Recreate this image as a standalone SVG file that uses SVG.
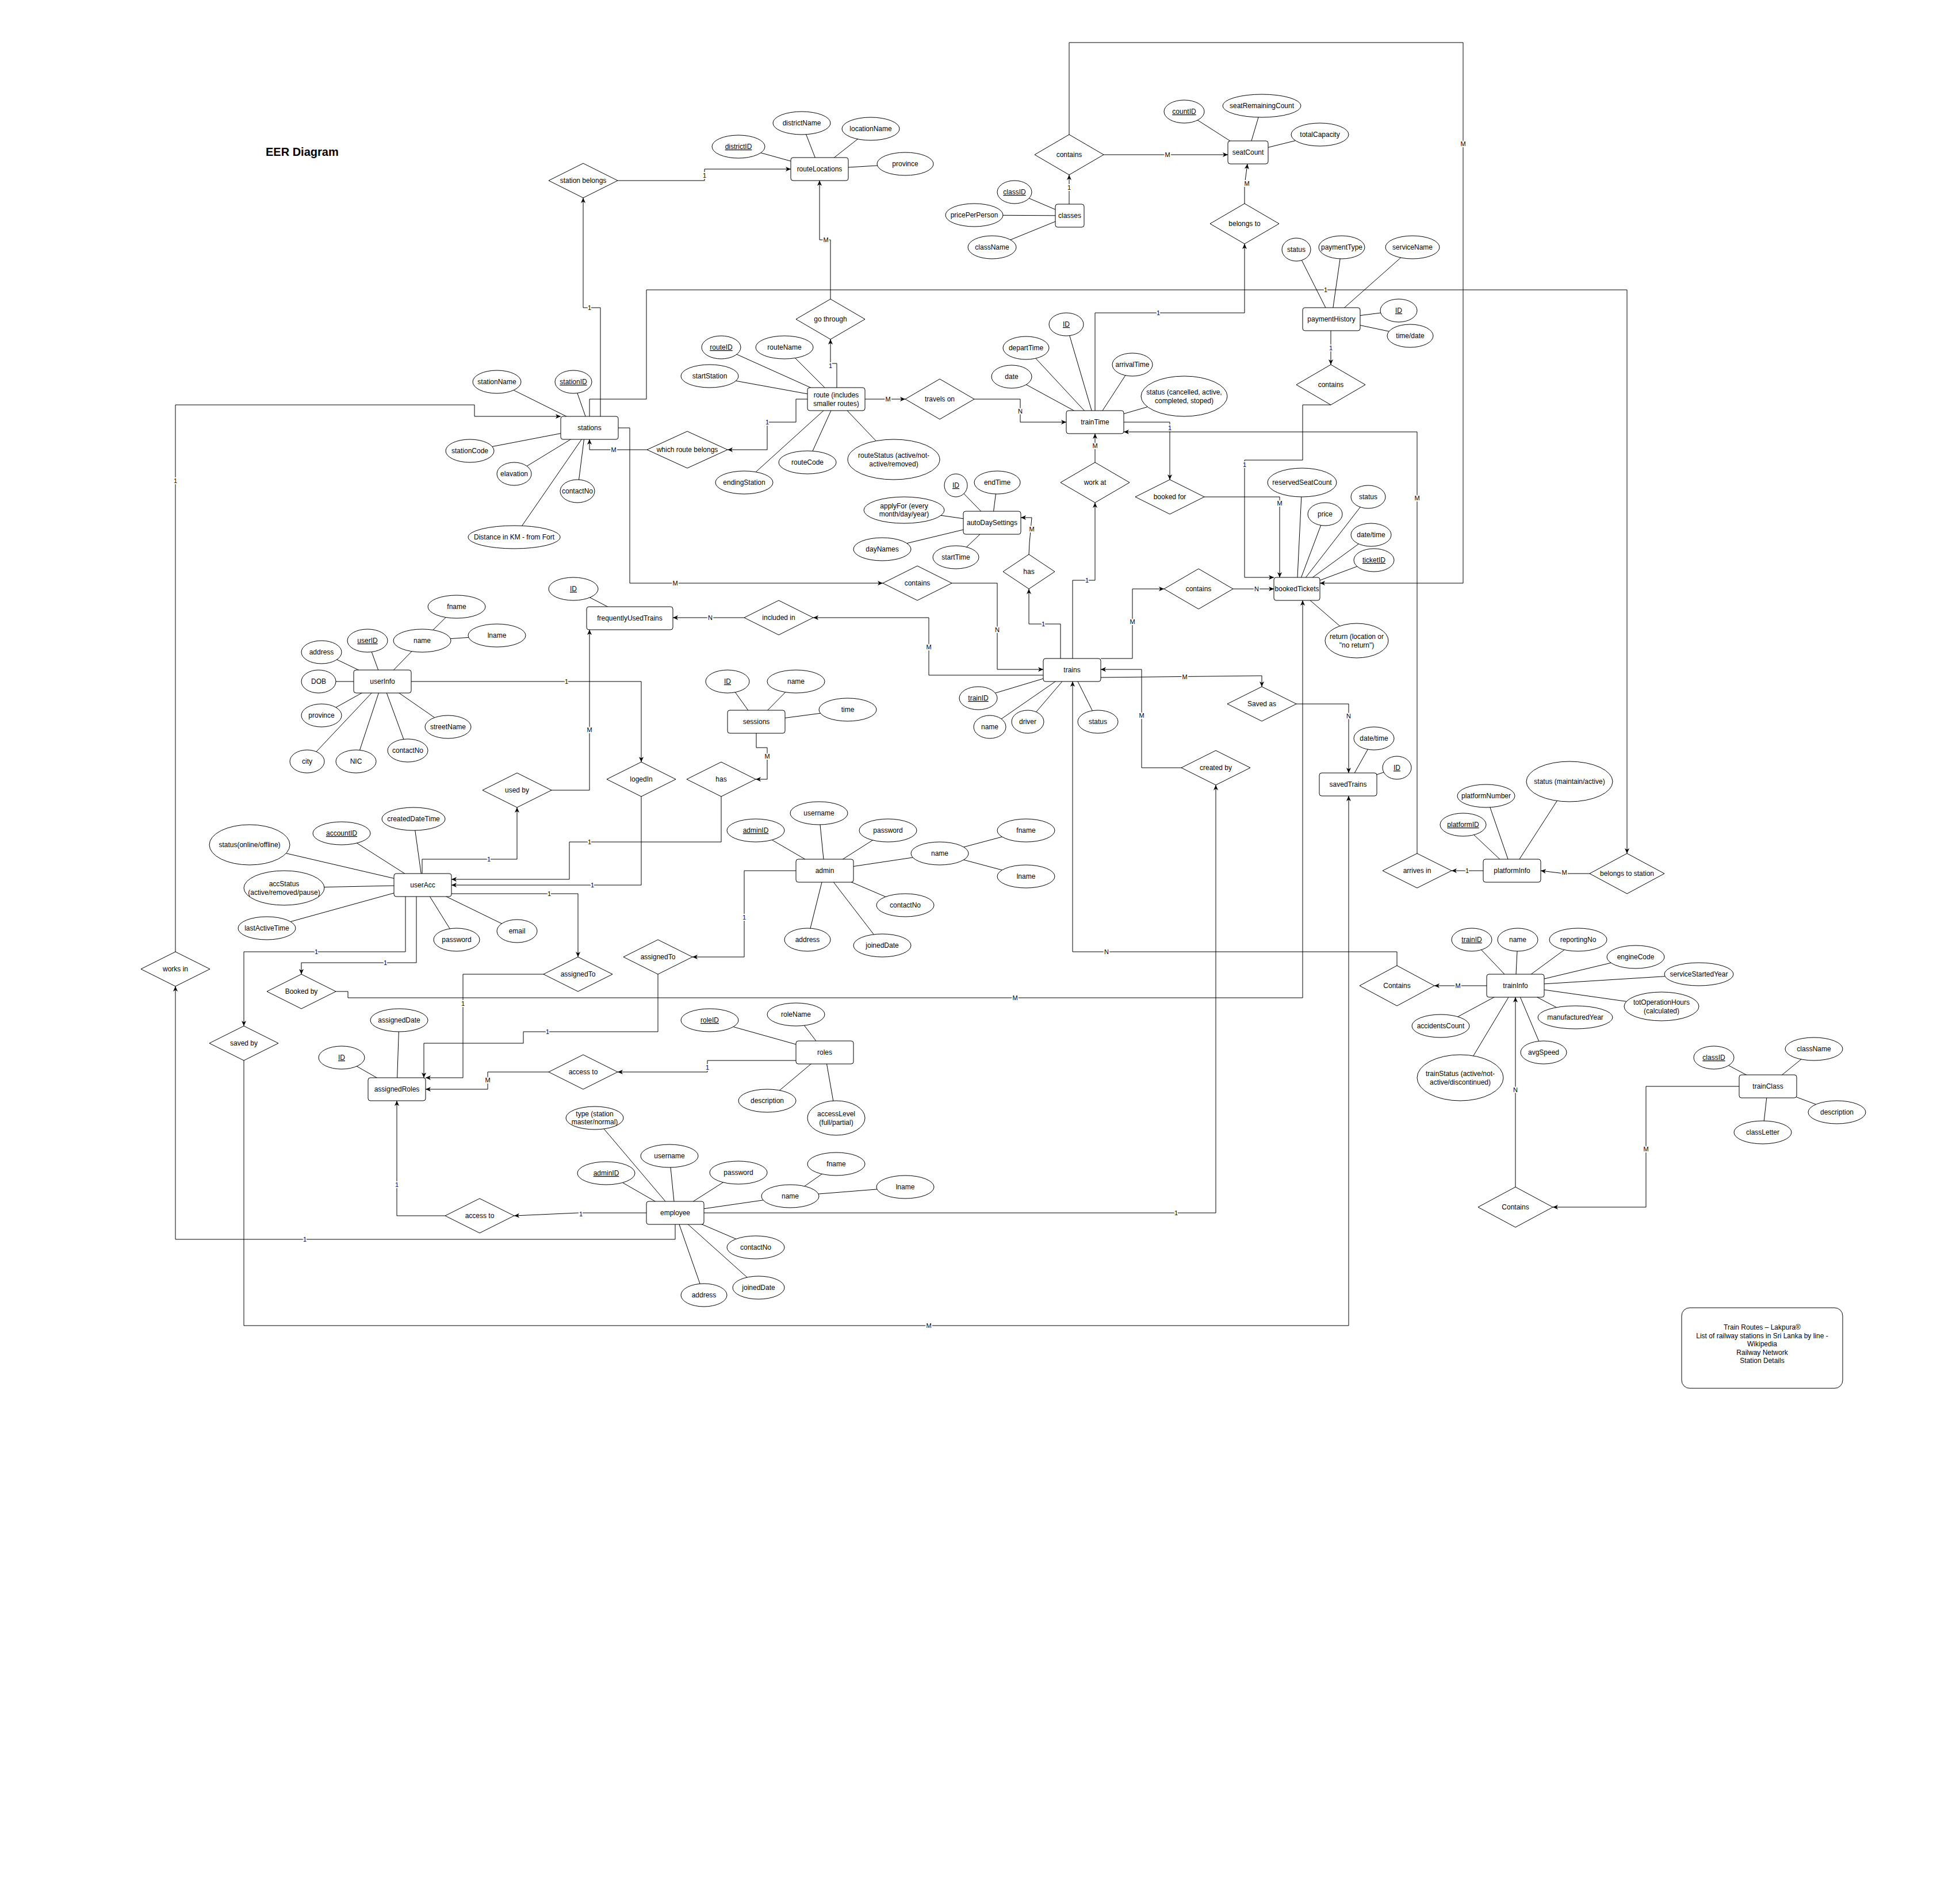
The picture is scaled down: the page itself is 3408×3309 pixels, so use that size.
<svg xmlns="http://www.w3.org/2000/svg" width="3408" height="3309" viewBox="0 0 3408 3309">
<defs>
<marker id="arr" markerWidth="10" markerHeight="8" refX="9" refY="4" orient="auto" markerUnits="userSpaceOnUse"><path d="M0,0 L9,4 L0,8 L2.5,4 z" fill="#000"/></marker>
<style>
text{font-family:"Liberation Sans",Arial,Helvetica,sans-serif;font-size:12px;fill:#000;text-anchor:middle}
.e,.a,.r{fill:#fff;stroke:#000;stroke-width:1}
.k{text-decoration:underline}
.al line{stroke:#000;stroke-width:1}
.c{fill:none;stroke:#000;stroke-width:1}
.l{font-size:11px;paint-order:stroke;stroke:#fff;stroke-width:4px;stroke-linejoin:round}
.t{font-size:20px;font-weight:bold;text-anchor:start}
</style>
</defs>
<rect width="3408" height="3309" fill="#fff"/>
<text class="t" x="462" y="271">EER Diagram</text>

<g id="attribute-links" class="al">
<line x1="1025" y1="744" x2="864" y2="664"/><line x1="1025" y1="744" x2="997" y2="664"/><line x1="1025" y1="744" x2="817" y2="784"/><line x1="1025" y1="744" x2="894" y2="824"/><line x1="1018" y1="744" x2="1004" y2="854"/><line x1="1025" y1="744" x2="894" y2="934"/>
<line x1="1425" y1="294" x2="1284" y2="255"/><line x1="1425" y1="294" x2="1394" y2="214"/><line x1="1425" y1="294" x2="1514" y2="224"/><line x1="1425" y1="294" x2="1574" y2="285"/>
<line x1="1454" y1="694" x2="1254" y2="604"/><line x1="1454" y1="694" x2="1364" y2="604"/><line x1="1454" y1="694" x2="1234" y2="654"/><line x1="1454" y1="694" x2="1294" y2="839"/><line x1="1454" y1="694" x2="1404" y2="804"/><line x1="1454" y1="694" x2="1554" y2="799"/>
<line x1="1860" y1="375" x2="1764" y2="334"/><line x1="1860" y1="375" x2="1694" y2="374"/><line x1="1860" y1="375" x2="1725" y2="430"/>
<line x1="2170" y1="265" x2="2059" y2="194"/><line x1="2170" y1="265" x2="2194" y2="184"/><line x1="2170" y1="265" x2="2295" y2="234"/>
<line x1="1904" y1="734" x2="1854" y2="564"/><line x1="1904" y1="734" x2="1784" y2="605"/><line x1="1904" y1="734" x2="1969" y2="634"/><line x1="1904" y1="734" x2="1759" y2="655"/><line x1="1904" y1="734" x2="2059" y2="689"/>
<line x1="2315" y1="555" x2="2254" y2="434"/><line x1="2315" y1="555" x2="2333" y2="430"/><line x1="2315" y1="555" x2="2456" y2="430"/><line x1="2315" y1="555" x2="2432" y2="540"/><line x1="2315" y1="555" x2="2452" y2="584"/>
<line x1="1725" y1="909" x2="1662" y2="844"/><line x1="1725" y1="909" x2="1734" y2="839"/><line x1="1725" y1="909" x2="1572" y2="887"/><line x1="1725" y1="909" x2="1534" y2="955"/><line x1="1725" y1="909" x2="1662" y2="969"/>
<line x1="2255" y1="1024" x2="2264" y2="839"/><line x1="2255" y1="1024" x2="2304" y2="894"/><line x1="2255" y1="1024" x2="2379" y2="864"/><line x1="2255" y1="1024" x2="2384" y2="930"/><line x1="2255" y1="1024" x2="2389" y2="974"/><line x1="2255" y1="1024" x2="2359" y2="1114"/>
<line x1="1095" y1="1075" x2="997" y2="1024"/>
<line x1="1864" y1="1165" x2="1701" y2="1214"/><line x1="1864" y1="1165" x2="1721" y2="1264"/><line x1="1864" y1="1165" x2="1787" y2="1255"/><line x1="1864" y1="1165" x2="1909" y2="1255"/>
<line x1="665" y1="1185" x2="734" y2="1114"/><line x1="734" y1="1114" x2="794" y2="1055"/><line x1="734" y1="1114" x2="864" y2="1105"/><line x1="665" y1="1185" x2="639" y2="1114"/><line x1="665" y1="1185" x2="559" y2="1134"/><line x1="665" y1="1185" x2="554" y2="1185"/><line x1="665" y1="1185" x2="559" y2="1244"/><line x1="665" y1="1185" x2="534" y2="1324"/><line x1="665" y1="1185" x2="619" y2="1324"/><line x1="665" y1="1185" x2="709" y2="1305"/><line x1="665" y1="1185" x2="779" y2="1264"/>
<line x1="1315" y1="1255" x2="1265" y2="1185"/><line x1="1315" y1="1255" x2="1384" y2="1185"/><line x1="1315" y1="1255" x2="1474" y2="1234"/>
<line x1="2344" y1="1364" x2="2389" y2="1284"/><line x1="2344" y1="1364" x2="2429" y2="1335"/>
<line x1="2629" y1="1514" x2="2544" y2="1434"/><line x1="2629" y1="1514" x2="2584" y2="1384"/><line x1="2629" y1="1514" x2="2729" y2="1359"/>
<line x1="735" y1="1539" x2="594" y2="1449"/><line x1="735" y1="1539" x2="719" y2="1424"/><line x1="735" y1="1539" x2="434" y2="1469"/><line x1="735" y1="1539" x2="494" y2="1544"/><line x1="735" y1="1539" x2="464" y2="1614"/><line x1="735" y1="1539" x2="794" y2="1634"/><line x1="735" y1="1539" x2="899" y2="1619"/>
<line x1="1434" y1="1514" x2="1314" y2="1444"/><line x1="1434" y1="1514" x2="1424" y2="1414"/><line x1="1434" y1="1514" x2="1544" y2="1444"/><line x1="1434" y1="1514" x2="1634" y2="1484"/><line x1="1634" y1="1484" x2="1784" y2="1444"/><line x1="1634" y1="1484" x2="1784" y2="1524"/><line x1="1434" y1="1514" x2="1574" y2="1574"/><line x1="1434" y1="1514" x2="1404" y2="1634"/><line x1="1434" y1="1514" x2="1534" y2="1644"/>
<line x1="2635" y1="1714" x2="2559" y2="1634"/><line x1="2635" y1="1714" x2="2639" y2="1634"/><line x1="2635" y1="1714" x2="2744" y2="1634"/><line x1="2635" y1="1714" x2="2844" y2="1664"/><line x1="2635" y1="1714" x2="2954" y2="1694"/><line x1="2635" y1="1714" x2="2889" y2="1750"/><line x1="2635" y1="1714" x2="2739" y2="1769"/><line x1="2635" y1="1714" x2="2684" y2="1830"/><line x1="2635" y1="1714" x2="2505" y2="1784"/><line x1="2635" y1="1714" x2="2539" y2="1874"/>
<line x1="1434" y1="1830" x2="1234" y2="1774"/><line x1="1434" y1="1830" x2="1384" y2="1764"/><line x1="1434" y1="1830" x2="1334" y2="1914"/><line x1="1434" y1="1830" x2="1454" y2="1944"/>
<line x1="690" y1="1894" x2="594" y2="1839"/><line x1="690" y1="1894" x2="694" y2="1774"/>
<line x1="3074" y1="1889" x2="2980" y2="1839"/><line x1="3074" y1="1889" x2="3154" y2="1824"/><line x1="3074" y1="1889" x2="3194" y2="1934"/><line x1="3074" y1="1889" x2="3065" y2="1969"/>
<line x1="1174" y1="2109" x2="1034" y2="1944"/><line x1="1174" y1="2109" x2="1054" y2="2040"/><line x1="1174" y1="2109" x2="1164" y2="2010"/><line x1="1174" y1="2109" x2="1284" y2="2039"/><line x1="1174" y1="2109" x2="1374" y2="2080"/><line x1="1374" y1="2080" x2="1454" y2="2024"/><line x1="1374" y1="2080" x2="1574" y2="2064"/><line x1="1174" y1="2109" x2="1314" y2="2169"/><line x1="1174" y1="2109" x2="1319" y2="2239"/><line x1="1174" y1="2109" x2="1224" y2="2252"/>
</g>

<g id="entities">
<g id="stations"><rect class="e" x="975" y="724" width="100" height="40" rx="4"/><text x="1025" y="748">stations</text></g>
<g id="routeLocations"><rect class="e" x="1375" y="274" width="100" height="40" rx="4"/><text x="1425" y="298">routeLocations</text></g>
<g id="route"><rect class="e" x="1404" y="674" width="100" height="40" rx="4"/><text x="1454" y="691">route (includes</text><text x="1454" y="706">smaller routes)</text></g>
<g id="classes"><rect class="e" x="1835" y="355" width="50" height="40" rx="4"/><text x="1860" y="379">classes</text></g>
<g id="seatCount"><rect class="e" x="2135" y="245" width="70" height="40" rx="4"/><text x="2170" y="269">seatCount</text></g>
<g id="trainTime"><rect class="e" x="1854" y="714" width="100" height="40" rx="4"/><text x="1904" y="738">trainTime</text></g>
<g id="paymentHistory"><rect class="e" x="2265" y="535" width="100" height="40" rx="4"/><text x="2315" y="559">paymentHistory</text></g>
<g id="autoDaySettings"><rect class="e" x="1675" y="889" width="100" height="40" rx="4"/><text x="1725" y="913">autoDaySettings</text></g>
<g id="bookedTickets"><rect class="e" x="2215" y="1004" width="80" height="40" rx="4"/><text x="2255" y="1028">bookedTickets</text></g>
<g id="frequentlyUsedTrains"><rect class="e" x="1020" y="1055" width="150" height="40" rx="4"/><text x="1095" y="1079">frequentlyUsedTrains</text></g>
<g id="trains"><rect class="e" x="1814" y="1145" width="100" height="40" rx="4"/><text x="1864" y="1169">trains</text></g>
<g id="userInfo"><rect class="e" x="615" y="1165" width="100" height="40" rx="4"/><text x="665" y="1189">userInfo</text></g>
<g id="sessions"><rect class="e" x="1265" y="1235" width="100" height="40" rx="4"/><text x="1315" y="1259">sessions</text></g>
<g id="savedTrains"><rect class="e" x="2294" y="1344" width="100" height="40" rx="4"/><text x="2344" y="1368">savedTrains</text></g>
<g id="platformInfo"><rect class="e" x="2579" y="1494" width="100" height="40" rx="4"/><text x="2629" y="1518">platformInfo</text></g>
<g id="userAcc"><rect class="e" x="685" y="1519" width="100" height="40" rx="4"/><text x="735" y="1543">userAcc</text></g>
<g id="admin"><rect class="e" x="1384" y="1494" width="100" height="40" rx="4"/><text x="1434" y="1518">admin</text></g>
<g id="trainInfo"><rect class="e" x="2585" y="1694" width="100" height="40" rx="4"/><text x="2635" y="1718">trainInfo</text></g>
<g id="roles"><rect class="e" x="1384" y="1810" width="100" height="40" rx="4"/><text x="1434" y="1834">roles</text></g>
<g id="assignedRoles"><rect class="e" x="640" y="1874" width="100" height="40" rx="4"/><text x="690" y="1898">assignedRoles</text></g>
<g id="trainClass"><rect class="e" x="3024" y="1869" width="100" height="40" rx="4"/><text x="3074" y="1893">trainClass</text></g>
<g id="employee"><rect class="e" x="1124" y="2089" width="100" height="40" rx="4"/><text x="1174" y="2113">employee</text></g>
</g>

<g id="relationships">
<g id="rel-station-belongs"><polygon class="r" points="954,314 1014,284 1074,314 1014,344"/><text x="1014" y="318">station belongs</text></g>
<g id="rel-go-through"><polygon class="r" points="1384,555 1444,520 1504,555 1444,590"/><text x="1444" y="559">go through</text></g>
<g id="rel-contains-classes"><polygon class="r" points="1799,269 1859,234 1919,269 1859,304"/><text x="1859" y="273">contains</text></g>
<g id="rel-belongs-to"><polygon class="r" points="2104,389 2164,354 2224,389 2164,424"/><text x="2164" y="393">belongs to</text></g>
<g id="rel-contains-payment"><polygon class="r" points="2254,669 2314,634 2374,669 2314,704"/><text x="2314" y="673">contains</text></g>
<g id="rel-travels-on"><polygon class="r" points="1574,694 1634,659 1694,694 1634,729"/><text x="1634" y="698">travels on</text></g>
<g id="rel-which-route-belongs"><polygon class="r" points="1125,782 1195,750 1265,782 1195,814"/><text x="1195" y="786">which route belongs</text></g>
<g id="rel-work-at"><polygon class="r" points="1844,839 1904,804 1964,839 1904,874"/><text x="1904" y="843">work at</text></g>
<g id="rel-booked-for"><polygon class="r" points="1974,864 2034,834 2094,864 2034,894"/><text x="2034" y="868">booked for</text></g>
<g id="rel-has-auto"><polygon class="r" points="1744,994 1789,964 1834,994 1789,1024"/><text x="1789" y="998">has</text></g>
<g id="rel-contains-stations"><polygon class="r" points="1535,1014 1595,984 1655,1014 1595,1044"/><text x="1595" y="1018">contains</text></g>
<g id="rel-contains-tickets"><polygon class="r" points="2024,1024 2084,989 2144,1024 2084,1059"/><text x="2084" y="1028">contains</text></g>
<g id="rel-included-in"><polygon class="r" points="1294,1074 1354,1044 1414,1074 1354,1104"/><text x="1354" y="1078">included in</text></g>
<g id="rel-saved-as"><polygon class="r" points="2134,1224 2194,1194 2254,1224 2194,1254"/><text x="2194" y="1228">Saved as</text></g>
<g id="rel-created-by"><polygon class="r" points="2054,1335 2114,1305 2174,1335 2114,1365"/><text x="2114" y="1339">created by</text></g>
<g id="rel-logedIn"><polygon class="r" points="1055,1355 1115,1325 1175,1355 1115,1385"/><text x="1115" y="1359">logedIn</text></g>
<g id="rel-has-sessions"><polygon class="r" points="1194,1355 1254,1325 1314,1355 1254,1385"/><text x="1254" y="1359">has</text></g>
<g id="rel-used-by"><polygon class="r" points="839,1374 899,1344 959,1374 899,1404"/><text x="899" y="1378">used by</text></g>
<g id="rel-arrives-in"><polygon class="r" points="2404,1514 2464,1484 2524,1514 2464,1544"/><text x="2464" y="1518">arrives in</text></g>
<g id="rel-belongs-to-station"><polygon class="r" points="2764,1519 2829,1484 2894,1519 2829,1554"/><text x="2829" y="1523">belongs to station</text></g>
<g id="rel-works-in"><polygon class="r" points="245,1685 305,1655 365,1685 305,1715"/><text x="305" y="1689">works in</text></g>
<g id="rel-assignedTo-admin"><polygon class="r" points="1084,1664 1144,1634 1204,1664 1144,1694"/><text x="1144" y="1668">assignedTo</text></g>
<g id="rel-assignedTo-user"><polygon class="r" points="945,1694 1005,1664 1065,1694 1005,1724"/><text x="1005" y="1698">assignedTo</text></g>
<g id="rel-contains-traininfo"><polygon class="r" points="2364,1714 2429,1679 2494,1714 2429,1749"/><text x="2429" y="1718">Contains</text></g>
<g id="rel-booked-by"><polygon class="r" points="464,1724 524,1694 584,1724 524,1754"/><text x="524" y="1728">Booked by</text></g>
<g id="rel-saved-by"><polygon class="r" points="364,1814 424,1784 484,1814 424,1844"/><text x="424" y="1818">saved by</text></g>
<g id="rel-access-to-roles"><polygon class="r" points="954,1864 1014,1834 1074,1864 1014,1894"/><text x="1014" y="1868">access to</text></g>
<g id="rel-contains-trainclass"><polygon class="r" points="2570,2099 2635,2064 2700,2099 2635,2134"/><text x="2635" y="2103">Contains</text></g>
<g id="rel-access-to-employee"><polygon class="r" points="774,2114 834,2084 894,2114 834,2144"/><text x="834" y="2118">access to</text></g>
</g>

<g id="attributes">
<g id="at-stationName"><ellipse class="a" cx="864" cy="664" rx="42" ry="20"/><text x="864" y="668">stationName</text></g>
<g id="at-stationID"><ellipse class="a" cx="997" cy="664" rx="32" ry="20"/><text class="k" x="997" y="668">stationID</text></g>
<g id="at-stationCode"><ellipse class="a" cx="817" cy="784" rx="42" ry="20"/><text x="817" y="788">stationCode</text></g>
<g id="at-elavation"><ellipse class="a" cx="894" cy="824" rx="30" ry="20"/><text x="894" y="828">elavation</text></g>
<g id="at-stationContactNo"><ellipse class="a" cx="1004" cy="854" rx="30" ry="20"/><text x="1004" y="858">contactNo</text></g>
<g id="at-distance"><ellipse class="a" cx="894" cy="934" rx="80" ry="20"/><text x="894" y="938">Distance in KM - from Fort</text></g>

<g id="at-districtID"><ellipse class="a" cx="1284" cy="255" rx="46" ry="20"/><text class="k" x="1284" y="259">districtID</text></g>
<g id="at-districtName"><ellipse class="a" cx="1394" cy="214" rx="50" ry="20"/><text x="1394" y="218">districtName</text></g>
<g id="at-locationName"><ellipse class="a" cx="1514" cy="224" rx="50" ry="20"/><text x="1514" y="228">locationName</text></g>
<g id="at-province-loc"><ellipse class="a" cx="1574" cy="285" rx="49" ry="20"/><text x="1574" y="289">province</text></g>

<g id="at-routeID"><ellipse class="a" cx="1254" cy="604" rx="34" ry="20"/><text class="k" x="1254" y="608">routeID</text></g>
<g id="at-routeName"><ellipse class="a" cx="1364" cy="604" rx="50" ry="20"/><text x="1364" y="608">routeName</text></g>
<g id="at-startStation"><ellipse class="a" cx="1234" cy="654" rx="50" ry="20"/><text x="1234" y="658">startStation</text></g>
<g id="at-endingStation"><ellipse class="a" cx="1294" cy="839" rx="50" ry="20"/><text x="1294" y="843">endingStation</text></g>
<g id="at-routeCode"><ellipse class="a" cx="1404" cy="804" rx="50" ry="20"/><text x="1404" y="808">routeCode</text></g>
<g id="at-routeStatus"><ellipse class="a" cx="1554" cy="799" rx="80" ry="35"/><text x="1554" y="796">routeStatus (active/not-</text><text x="1554" y="811">active/removed)</text></g>

<g id="at-classID"><ellipse class="a" cx="1764" cy="334" rx="30" ry="20"/><text class="k" x="1764" y="338">classID</text></g>
<g id="at-pricePerPerson"><ellipse class="a" cx="1694" cy="374" rx="50" ry="20"/><text x="1694" y="378">pricePerPerson</text></g>
<g id="at-className"><ellipse class="a" cx="1725" cy="430" rx="42" ry="20"/><text x="1725" y="434">className</text></g>

<g id="at-countID"><ellipse class="a" cx="2059" cy="194" rx="35" ry="20"/><text class="k" x="2059" y="198">countID</text></g>
<g id="at-seatRemainingCount"><ellipse class="a" cx="2194" cy="184" rx="68" ry="20"/><text x="2194" y="188">seatRemainingCount</text></g>
<g id="at-totalCapacity"><ellipse class="a" cx="2295" cy="234" rx="50" ry="20"/><text x="2295" y="238">totalCapacity</text></g>

<g id="at-trainTimeID"><ellipse class="a" cx="1854" cy="564" rx="30" ry="20"/><text class="k" x="1854" y="568">ID</text></g>
<g id="at-departTime"><ellipse class="a" cx="1784" cy="605" rx="40" ry="20"/><text x="1784" y="609">departTime</text></g>
<g id="at-arrivalTime"><ellipse class="a" cx="1969" cy="634" rx="35" ry="20"/><text x="1969" y="638">arrivalTime</text></g>
<g id="at-date"><ellipse class="a" cx="1759" cy="655" rx="35" ry="20"/><text x="1759" y="659">date</text></g>
<g id="at-trainTimeStatus"><ellipse class="a" cx="2059" cy="689" rx="75" ry="35"/><text x="2059" y="686">status (cancelled, active,</text><text x="2059" y="701">completed, stoped)</text></g>

<g id="at-payStatus"><ellipse class="a" cx="2254" cy="434" rx="25" ry="20"/><text x="2254" y="438">status</text></g>
<g id="at-paymentType"><ellipse class="a" cx="2333" cy="430" rx="40" ry="20"/><text x="2333" y="434">paymentType</text></g>
<g id="at-serviceName"><ellipse class="a" cx="2456" cy="430" rx="47" ry="20"/><text x="2456" y="434">serviceName</text></g>
<g id="at-payID"><ellipse class="a" cx="2432" cy="540" rx="32" ry="20"/><text class="k" x="2432" y="544">ID</text></g>
<g id="at-payTimeDate"><ellipse class="a" cx="2452" cy="584" rx="40" ry="20"/><text x="2452" y="588">time/date</text></g>

<g id="at-autoID"><ellipse class="a" cx="1662" cy="844" rx="20" ry="20"/><text class="k" x="1662" y="848">ID</text></g>
<g id="at-endTime"><ellipse class="a" cx="1734" cy="839" rx="40" ry="20"/><text x="1734" y="843">endTime</text></g>
<g id="at-applyFor"><ellipse class="a" cx="1572" cy="887" rx="70" ry="23"/><text x="1572" y="884">applyFor (every</text><text x="1572" y="898">month/day/year)</text></g>
<g id="at-dayNames"><ellipse class="a" cx="1534" cy="955" rx="50" ry="20"/><text x="1534" y="959">dayNames</text></g>
<g id="at-startTime"><ellipse class="a" cx="1662" cy="969" rx="40" ry="20"/><text x="1662" y="973">startTime</text></g>

<g id="at-reservedSeatCount"><ellipse class="a" cx="2264" cy="839" rx="60" ry="25"/><text x="2264" y="843">reservedSeatCount</text></g>
<g id="at-price"><ellipse class="a" cx="2304" cy="894" rx="30" ry="20"/><text x="2304" y="898">price</text></g>
<g id="at-ticketStatus"><ellipse class="a" cx="2379" cy="864" rx="30" ry="20"/><text x="2379" y="868">status</text></g>
<g id="at-ticketDateTime"><ellipse class="a" cx="2384" cy="930" rx="35" ry="20"/><text x="2384" y="934">date/time</text></g>
<g id="at-ticketID"><ellipse class="a" cx="2389" cy="974" rx="35" ry="20"/><text class="k" x="2389" y="978">ticketID</text></g>
<g id="at-return"><ellipse class="a" cx="2359" cy="1114" rx="55" ry="30"/><text x="2359" y="1111">return (location or</text><text x="2359" y="1126">"no return")</text></g>

<g id="at-futID"><ellipse class="a" cx="997" cy="1024" rx="43" ry="20"/><text class="k" x="997" y="1028">ID</text></g>

<g id="at-trainID"><ellipse class="a" cx="1701" cy="1214" rx="33" ry="20"/><text class="k" x="1701" y="1218">trainID</text></g>
<g id="at-trainName"><ellipse class="a" cx="1721" cy="1264" rx="28" ry="20"/><text x="1721" y="1268">name</text></g>
<g id="at-driver"><ellipse class="a" cx="1787" cy="1255" rx="28" ry="20"/><text x="1787" y="1259">driver</text></g>
<g id="at-trainStatus"><ellipse class="a" cx="1909" cy="1255" rx="35" ry="20"/><text x="1909" y="1259">status</text></g>

<g id="at-userName"><ellipse class="a" cx="734" cy="1114" rx="50" ry="20"/><text x="734" y="1118">name</text></g>
<g id="at-userFname"><ellipse class="a" cx="794" cy="1055" rx="50" ry="20"/><text x="794" y="1059">fname</text></g>
<g id="at-userLname"><ellipse class="a" cx="864" cy="1105" rx="50" ry="20"/><text x="864" y="1109">lname</text></g>
<g id="at-userID"><ellipse class="a" cx="639" cy="1114" rx="35" ry="20"/><text class="k" x="639" y="1118">userID</text></g>
<g id="at-address-user"><ellipse class="a" cx="559" cy="1134" rx="35" ry="20"/><text x="559" y="1138">address</text></g>
<g id="at-DOB"><ellipse class="a" cx="554" cy="1185" rx="30" ry="20"/><text x="554" y="1189">DOB</text></g>
<g id="at-province-user"><ellipse class="a" cx="559" cy="1244" rx="35" ry="20"/><text x="559" y="1248">province</text></g>
<g id="at-city"><ellipse class="a" cx="534" cy="1324" rx="30" ry="20"/><text x="534" y="1328">city</text></g>
<g id="at-NIC"><ellipse class="a" cx="619" cy="1324" rx="35" ry="20"/><text x="619" y="1328">NIC</text></g>
<g id="at-contactNo-user"><ellipse class="a" cx="709" cy="1305" rx="35" ry="20"/><text x="709" y="1309">contactNo</text></g>
<g id="at-streetName"><ellipse class="a" cx="779" cy="1264" rx="40" ry="20"/><text x="779" y="1268">streetName</text></g>

<g id="at-sessID"><ellipse class="a" cx="1265" cy="1185" rx="38" ry="20"/><text class="k" x="1265" y="1189">ID</text></g>
<g id="at-sessName"><ellipse class="a" cx="1384" cy="1185" rx="50" ry="20"/><text x="1384" y="1189">name</text></g>
<g id="at-sessTime"><ellipse class="a" cx="1474" cy="1234" rx="50" ry="20"/><text x="1474" y="1238">time</text></g>

<g id="at-savedDateTime"><ellipse class="a" cx="2389" cy="1284" rx="35" ry="20"/><text x="2389" y="1288">date/time</text></g>
<g id="at-savedID"><ellipse class="a" cx="2429" cy="1335" rx="25" ry="20"/><text class="k" x="2429" y="1339">ID</text></g>

<g id="at-platformID"><ellipse class="a" cx="2544" cy="1434" rx="40" ry="20"/><text class="k" x="2544" y="1438">platformID</text></g>
<g id="at-platformNumber"><ellipse class="a" cx="2584" cy="1384" rx="50" ry="20"/><text x="2584" y="1388">platformNumber</text></g>
<g id="at-platformStatus"><ellipse class="a" cx="2729" cy="1359" rx="75" ry="35"/><text x="2729" y="1363">status (maintain/active)</text></g>

<g id="at-accountID"><ellipse class="a" cx="594" cy="1449" rx="50" ry="20"/><text class="k" x="594" y="1453">accountID</text></g>
<g id="at-createdDateTime"><ellipse class="a" cx="719" cy="1424" rx="55" ry="20"/><text x="719" y="1428">createdDateTime</text></g>
<g id="at-onlineStatus"><ellipse class="a" cx="434" cy="1469" rx="70" ry="35"/><text x="434" y="1473">status(online/offline)</text></g>
<g id="at-accStatus"><ellipse class="a" cx="494" cy="1544" rx="70" ry="30"/><text x="494" y="1541">accStatus</text><text x="494" y="1556">(active/removed/pause)</text></g>
<g id="at-lastActiveTime"><ellipse class="a" cx="464" cy="1614" rx="50" ry="20"/><text x="464" y="1618">lastActiveTime</text></g>
<g id="at-password-user"><ellipse class="a" cx="794" cy="1634" rx="40" ry="20"/><text x="794" y="1638">password</text></g>
<g id="at-email"><ellipse class="a" cx="899" cy="1619" rx="35" ry="20"/><text x="899" y="1623">email</text></g>

<g id="at-adminID"><ellipse class="a" cx="1314" cy="1444" rx="50" ry="20"/><text class="k" x="1314" y="1448">adminID</text></g>
<g id="at-adminUsername"><ellipse class="a" cx="1424" cy="1414" rx="50" ry="20"/><text x="1424" y="1418">username</text></g>
<g id="at-adminPassword"><ellipse class="a" cx="1544" cy="1444" rx="50" ry="20"/><text x="1544" y="1448">password</text></g>
<g id="at-adminName"><ellipse class="a" cx="1634" cy="1484" rx="50" ry="20"/><text x="1634" y="1488">name</text></g>
<g id="at-adminFname"><ellipse class="a" cx="1784" cy="1444" rx="50" ry="20"/><text x="1784" y="1448">fname</text></g>
<g id="at-adminLname"><ellipse class="a" cx="1784" cy="1524" rx="50" ry="20"/><text x="1784" y="1528">lname</text></g>
<g id="at-adminContactNo"><ellipse class="a" cx="1574" cy="1574" rx="50" ry="20"/><text x="1574" y="1578">contactNo</text></g>
<g id="at-adminAddress"><ellipse class="a" cx="1404" cy="1634" rx="40" ry="20"/><text x="1404" y="1638">address</text></g>
<g id="at-adminJoinedDate"><ellipse class="a" cx="1534" cy="1644" rx="50" ry="20"/><text x="1534" y="1648">joinedDate</text></g>

<g id="at-tiTrainID"><ellipse class="a" cx="2559" cy="1634" rx="35" ry="20"/><text class="k" x="2559" y="1638">trainID</text></g>
<g id="at-tiName"><ellipse class="a" cx="2639" cy="1634" rx="35" ry="20"/><text x="2639" y="1638">name</text></g>
<g id="at-reportingNo"><ellipse class="a" cx="2744" cy="1634" rx="50" ry="20"/><text x="2744" y="1638">reportingNo</text></g>
<g id="at-engineCode"><ellipse class="a" cx="2844" cy="1664" rx="50" ry="20"/><text x="2844" y="1668">engineCode</text></g>
<g id="at-serviceStartedYear"><ellipse class="a" cx="2954" cy="1694" rx="60" ry="20"/><text x="2954" y="1698">serviceStartedYear</text></g>
<g id="at-totOperationHours"><ellipse class="a" cx="2889" cy="1750" rx="65" ry="25"/><text x="2889" y="1747">totOperationHours</text><text x="2889" y="1762">(calculated)</text></g>
<g id="at-manufacturedYear"><ellipse class="a" cx="2739" cy="1769" rx="65" ry="20"/><text x="2739" y="1773">manufacturedYear</text></g>
<g id="at-avgSpeed"><ellipse class="a" cx="2684" cy="1830" rx="40" ry="20"/><text x="2684" y="1834">avgSpeed</text></g>
<g id="at-accidentsCount"><ellipse class="a" cx="2505" cy="1784" rx="50" ry="20"/><text x="2505" y="1788">accidentsCount</text></g>
<g id="at-tiTrainStatus"><ellipse class="a" cx="2539" cy="1874" rx="75" ry="40"/><text x="2539" y="1871">trainStatus (active/not-</text><text x="2539" y="1886">active/discontinued)</text></g>

<g id="at-roleID"><ellipse class="a" cx="1234" cy="1774" rx="50" ry="20"/><text class="k" x="1234" y="1778">roleID</text></g>
<g id="at-roleName"><ellipse class="a" cx="1384" cy="1764" rx="50" ry="20"/><text x="1384" y="1768">roleName</text></g>
<g id="at-roleDescription"><ellipse class="a" cx="1334" cy="1914" rx="50" ry="20"/><text x="1334" y="1918">description</text></g>
<g id="at-accessLevel"><ellipse class="a" cx="1454" cy="1944" rx="50" ry="30"/><text x="1454" y="1941">accessLevel</text><text x="1454" y="1956">(full/partial)</text></g>

<g id="at-arID"><ellipse class="a" cx="594" cy="1839" rx="40" ry="20"/><text class="k" x="594" y="1843">ID</text></g>
<g id="at-assignedDate"><ellipse class="a" cx="694" cy="1774" rx="50" ry="20"/><text x="694" y="1778">assignedDate</text></g>

<g id="at-tcClassID"><ellipse class="a" cx="2980" cy="1839" rx="35" ry="20"/><text class="k" x="2980" y="1843">classID</text></g>
<g id="at-tcClassName"><ellipse class="a" cx="3154" cy="1824" rx="50" ry="20"/><text x="3154" y="1828">className</text></g>
<g id="at-tcDescription"><ellipse class="a" cx="3194" cy="1934" rx="50" ry="20"/><text x="3194" y="1938">description</text></g>
<g id="at-classLetter"><ellipse class="a" cx="3065" cy="1969" rx="50" ry="20"/><text x="3065" y="1973">classLetter</text></g>

<g id="at-empType"><ellipse class="a" cx="1034" cy="1944" rx="50" ry="20"/><text x="1034" y="1941">type (station</text><text x="1034" y="1955">master/normal)</text></g>
<g id="at-empAdminID"><ellipse class="a" cx="1054" cy="2040" rx="50" ry="20"/><text class="k" x="1054" y="2044">adminID</text></g>
<g id="at-empUsername"><ellipse class="a" cx="1164" cy="2010" rx="50" ry="20"/><text x="1164" y="2014">username</text></g>
<g id="at-empPassword"><ellipse class="a" cx="1284" cy="2039" rx="50" ry="20"/><text x="1284" y="2043">password</text></g>
<g id="at-empName"><ellipse class="a" cx="1374" cy="2080" rx="50" ry="20"/><text x="1374" y="2084">name</text></g>
<g id="at-empFname"><ellipse class="a" cx="1454" cy="2024" rx="50" ry="20"/><text x="1454" y="2028">fname</text></g>
<g id="at-empLname"><ellipse class="a" cx="1574" cy="2064" rx="50" ry="20"/><text x="1574" y="2068">lname</text></g>
<g id="at-empContactNo"><ellipse class="a" cx="1314" cy="2169" rx="50" ry="20"/><text x="1314" y="2173">contactNo</text></g>
<g id="at-empJoinedDate"><ellipse class="a" cx="1319" cy="2239" rx="45" ry="20"/><text x="1319" y="2243">joinedDate</text></g>
<g id="at-empAddress"><ellipse class="a" cx="1224" cy="2252" rx="40" ry="20"/><text x="1224" y="2256">address</text></g>
</g>

<g id="connectors">
<polyline class="c" marker-end="url(#arr)" points="1074,314 1225,314 1225,294 1375,294"/>
<polyline class="c" marker-end="url(#arr)" points="1044,724 1044,535 1014,535 1014,344"/>
<polyline class="c" marker-end="url(#arr)" points="1025,724 1025,694 1124,694 1124,504 2829,504 2829,1484"/>
<polyline class="c" marker-end="url(#arr)" points="305,1655 305,704 825,704 825,724 975,724"/>
<polyline class="c" marker-end="url(#arr)" points="1174,2129 1174,2155 305,2155 305,1715"/>
<polyline class="c" marker-end="url(#arr)" points="1075,744 1095,744 1095,1014 1535,1014"/>
<polyline class="c" marker-end="url(#arr)" points="1655,1014 1734,1014 1734,1164 1814,1164"/>
<polyline class="c" marker-end="url(#arr)" points="1125,782 1025,782 1025,764"/>
<polyline class="c" marker-end="url(#arr)" points="1404,694 1384,694 1384,734 1334,734 1334,782 1265,782"/>
<polyline class="c" marker-end="url(#arr)" points="1455,674 1455,632 1444,632 1444,590"/>
<polyline class="c" marker-end="url(#arr)" points="1444,520 1444,417 1425,417 1425,314"/>
<polyline class="c" marker-end="url(#arr)" points="1504,694 1574,694"/>
<polyline class="c" marker-end="url(#arr)" points="1694,694 1774,694 1774,734 1854,734"/>
<polyline class="c" marker-end="url(#arr)" points="1904,714 1904,544 2164,544 2164,424"/>
<polyline class="c" marker-end="url(#arr)" points="2164,354 2164,322 2169,285"/>
<polyline class="c" marker-end="url(#arr)" points="1859,355 1859,304"/>
<polyline class="c" marker-end="url(#arr)" points="1919,269 2135,269"/>
<polyline class="c" marker-end="url(#arr)" points="1859,234 1859,74 2544,74 2544,1014 2295,1014"/>
<polyline class="c" marker-end="url(#arr)" points="2314,575 2314,634"/>
<polyline class="c" marker-end="url(#arr)" points="2314,704 2265,704 2265,800 2164,800 2164,1004 2215,1004"/>
<polyline class="c" marker-end="url(#arr)" points="1954,734 2034,734 2034,834"/>
<polyline class="c" marker-end="url(#arr)" points="2094,864 2225,864 2225,1004"/>
<polyline class="c" marker-end="url(#arr)" points="2579,1514 2524,1514"/>
<polyline class="c" marker-end="url(#arr)" points="2464,1484 2464,751 1954,751"/>
<polyline class="c" marker-end="url(#arr)" points="2764,1519 2720,1519 2679,1514"/>
<polyline class="c" marker-end="url(#arr)" points="1865,1145 1865,1009 1904,1009 1904,874"/>
<polyline class="c" marker-end="url(#arr)" points="1904,804 1904,754"/>
<polyline class="c" marker-end="url(#arr)" points="1844,1145 1844,1085 1789,1085 1789,1024"/>
<polyline class="c" marker-end="url(#arr)" points="1789,964 1790,944 1794,900 1775,900"/>
<polyline class="c" marker-end="url(#arr)" points="1914,1145 1969,1145 1969,1024 2024,1024"/>
<polyline class="c" marker-end="url(#arr)" points="2144,1024 2215,1024"/>
<polyline class="c" marker-end="url(#arr)" points="1814,1174 1615,1174 1615,1074 1414,1074"/>
<polyline class="c" marker-end="url(#arr)" points="1294,1074 1170,1074"/>
<polyline class="c" marker-end="url(#arr)" points="1914,1178 2194,1175 2194,1194"/>
<polyline class="c" marker-end="url(#arr)" points="2254,1224 2345,1224 2345,1344"/>
<polyline class="c" marker-end="url(#arr)" points="2054,1335 1985,1335 1985,1164 1914,1164"/>
<polyline class="c" marker-end="url(#arr)" points="1224,2109 2114,2109 2114,1365"/>
<polyline class="c" marker-end="url(#arr)" points="2429,1679 2429,1655 1865,1655 1865,1185"/>
<polyline class="c" marker-end="url(#arr)" points="2585,1714 2494,1714"/>
<polyline class="c" marker-end="url(#arr)" points="2635,2064 2635,1734"/>
<polyline class="c" marker-end="url(#arr)" points="3024,1889 2862,1889 2862,2099 2700,2099"/>
<polyline class="c" marker-end="url(#arr)" points="715,1185 1115,1185 1115,1325"/>
<polyline class="c" marker-end="url(#arr)" points="1115,1385 1115,1539 785,1539"/>
<polyline class="c" marker-end="url(#arr)" points="734,1519 734,1494 899,1494 899,1404"/>
<polyline class="c" marker-end="url(#arr)" points="959,1374 1025,1374 1025,1095"/>
<polyline class="c" marker-end="url(#arr)" points="1315,1275 1315,1300 1334,1300 1334,1355 1314,1355"/>
<polyline class="c" marker-end="url(#arr)" points="1254,1385 1254,1464 990,1464 990,1529 785,1529"/>
<polyline class="c" marker-end="url(#arr)" points="785,1554 1005,1554 1005,1664"/>
<polyline class="c" marker-end="url(#arr)" points="945,1694 805,1694 805,1874 740,1874"/>
<polyline class="c" marker-end="url(#arr)" points="1384,1514 1294,1514 1294,1664 1204,1664"/>
<polyline class="c" marker-end="url(#arr)" points="1144,1694 1144,1794 910,1794 910,1814 737,1814 737,1874"/>
<polyline class="c" marker-end="url(#arr)" points="1384,1844 1230,1844 1230,1864 1074,1864"/>
<polyline class="c" marker-end="url(#arr)" points="954,1864 848,1864 848,1894 740,1894"/>
<polyline class="c" marker-end="url(#arr)" points="1124,2109 1005,2109 894,2114"/>
<polyline class="c" marker-end="url(#arr)" points="774,2114 690,2114 690,1914"/>
<polyline class="c" marker-end="url(#arr)" points="705,1559 705,1655 424,1655 424,1784"/>
<polyline class="c" marker-end="url(#arr)" points="724,1559 724,1674 524,1674 524,1694"/>
<polyline class="c" marker-end="url(#arr)" points="584,1724 605,1724 605,1735 2265,1735 2265,1044"/>
<polyline class="c" marker-end="url(#arr)" points="424,1844 424,2305 2345,2305 2345,1384"/>
</g>

<g id="cardinality-labels">
<text class="l" x="1225" y="309">1</text>
<text class="l" x="1025" y="539">1</text>
<text class="l" x="2305" y="508">1</text>
<text class="l" x="305" y="840">1</text>
<text class="l" x="530" y="2159">1</text>
<text class="l" x="1174" y="1018">M</text>
<text class="l" x="1734" y="1099">N</text>
<text class="l" x="1067" y="786">M</text>
<text class="l" x="1334" y="738">1</text>
<text class="l" x="1444" y="640">1</text>
<text class="l" x="1436" y="421">M</text>
<text class="l" x="1544" y="698">M</text>
<text class="l" x="1774" y="719">N</text>
<text class="l" x="2014" y="548">1</text>
<text class="l" x="2168" y="323">M</text>
<text class="l" x="1859" y="330">1</text>
<text class="l" x="2030" y="273">M</text>
<text class="l" x="2544" y="254">M</text>
<text class="l" x="2314" y="609">1</text>
<text class="l" x="2164" y="812">1</text>
<text class="l" x="2034" y="748">1</text>
<text class="l" x="2225" y="879">M</text>
<text class="l" x="2551" y="1518">1</text>
<text class="l" x="2464" y="870">M</text>
<text class="l" x="2720" y="1521">M</text>
<text class="l" x="1890" y="1013">1</text>
<text class="l" x="1904" y="779">M</text>
<text class="l" x="1814" y="1089">1</text>
<text class="l" x="1794" y="924">M</text>
<text class="l" x="1969" y="1085">M</text>
<text class="l" x="2185" y="1028">N</text>
<text class="l" x="1615" y="1129">M</text>
<text class="l" x="1235" y="1078">N</text>
<text class="l" x="2060" y="1181">M</text>
<text class="l" x="2345" y="1249">N</text>
<text class="l" x="1985" y="1248">M</text>
<text class="l" x="2045" y="2113">1</text>
<text class="l" x="1924" y="1659">N</text>
<text class="l" x="2535" y="1718">M</text>
<text class="l" x="2635" y="1899">N</text>
<text class="l" x="2862" y="2002">M</text>
<text class="l" x="985" y="1189">1</text>
<text class="l" x="1030" y="1543">1</text>
<text class="l" x="850" y="1498">1</text>
<text class="l" x="1025" y="1273">M</text>
<text class="l" x="1334" y="1319">M</text>
<text class="l" x="1025" y="1468">1</text>
<text class="l" x="955" y="1558">1</text>
<text class="l" x="805" y="1749">1</text>
<text class="l" x="1294" y="1599">1</text>
<text class="l" x="952" y="1798">1</text>
<text class="l" x="1230" y="1860">1</text>
<text class="l" x="848" y="1882">M</text>
<text class="l" x="1010" y="2115">1</text>
<text class="l" x="690" y="2064">1</text>
<text class="l" x="550" y="1659">1</text>
<text class="l" x="670" y="1678">1</text>
<text class="l" x="1765" y="1739">M</text>
<text class="l" x="1615" y="2309">M</text>
</g>

<g id="legend">
<rect class="e" x="2924" y="2274" width="280" height="140" rx="14"/>
<text x="3064" y="2312">Train Routes – Lakpura®</text>
<text x="3064" y="2327">List of railway stations in Sri Lanka by line -</text>
<text x="3064" y="2341">Wikipedia</text>
<text x="3064" y="2356">Railway Network</text>
<text x="3064" y="2370">Station Details</text>
</g>
</svg>
